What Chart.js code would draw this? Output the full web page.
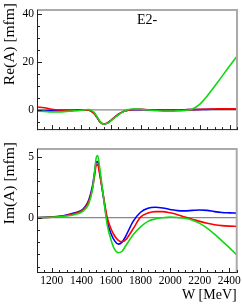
<!DOCTYPE html>
<html>
<head>
<meta charset="utf-8">
<script src="https://cdn.jsdelivr.net/npm/chart.js@4"></script>
<style>
  body { margin: 0; background: #fff; }
  .panel { position: absolute; left: 0; width: 242px; }
  #topBox { top: 0; height: 140px; }
  #botBox { top: 139px; height: 165px; }
</style>
</head>
<body>
<div class="panel" id="topBox"><canvas id="reChart"></canvas></div>
<div class="panel" id="botBox"><canvas id="imChart"></canvas></div>
<script>
// energies W [MeV]
const W = [1100, 1150, 1200, 1250, 1300, 1350, 1400, 1425, 1450, 1475, 1490, 1500, 1510, 1525, 1550, 1575, 1600, 1625, 1650, 1675, 1700, 1750, 1800, 1850, 1900, 1950, 2000, 2050, 2100, 2150, 2200, 2250, 2300, 2350, 2400, 2450];

// Re(A) [mfm]
const reRed   = [1.2, 0.9, 0.3, 0.0, -0.1, -0.15, -0.1, 0.0, -0.1, -0.9, -1.8, -2.6, -3.5, -4.9, -5.9, -5.4, -4.3, -3.0, -1.8, -0.9, -0.3, 0.2, 0.25, 0.1, 0.0, -0.05, 0.0, 0.05, 0.1, 0.15, 0.25, 0.3, 0.4, 0.45, 0.5, 0.5];
const reBlue  = [-0.2, -0.2, -0.25, -0.2, -0.15, -0.1, -0.05, 0.0, -0.1, -0.9, -1.8, -2.7, -3.6, -5.0, -5.9, -5.5, -4.3, -3.0, -1.8, -0.9, -0.3, 0.15, 0.15, 0.05, 0.0, 0.0, 0.0, 0.05, 0.1, 0.15, 0.2, 0.25, 0.3, 0.35, 0.4, 0.4];
const reGreen = [-0.5, -0.6, -0.8, -0.8, -0.6, -0.4, -0.1, 0.1, 0.2, -0.5, -1.4, -2.3, -3.3, -4.7, -5.9, -5.6, -4.5, -3.2, -2.0, -1.0, -0.2, 0.4, 0.3, 0.0, -0.3, -0.5, -0.5, -0.4, -0.2, 0.4, 2.4, 5.9, 10.0, 14.1, 18.3, 22.4];

// Im(A) [mfm]
const imRed   = [0.0, 0.02, 0.05, 0.1, 0.18, 0.32, 0.55, 0.85, 1.35, 2.4, 3.5, 4.3, 4.35, 3.5, 1.7, 0.0, -0.9, -1.5, -1.85, -1.96, -1.8, -0.9, 0.05, 0.38, 0.5, 0.5, 0.4, 0.25, 0.05, -0.12, -0.3, -0.45, -0.57, -0.65, -0.69, -0.71];
const imBlue  = [0.0, 0.03, 0.07, 0.12, 0.22, 0.38, 0.6, 0.9, 1.45, 2.6, 3.8, 4.55, 4.6, 3.6, 1.6, -0.3, -1.3, -1.9, -2.16, -2.0, -1.5, -0.3, 0.45, 0.78, 0.86, 0.8, 0.68, 0.58, 0.56, 0.6, 0.63, 0.6, 0.5, 0.43, 0.4, 0.38];
const imGreen = [0.0, 0.02, 0.04, 0.08, 0.14, 0.25, 0.45, 0.7, 1.15, 2.3, 3.8, 4.9, 5.1, 4.0, 1.6, -0.6, -1.8, -2.6, -2.87, -2.75, -2.3, -1.4, -0.75, -0.3, -0.1, 0.0, 0.05, 0.02, -0.05, -0.2, -0.46, -0.85, -1.35, -1.9, -2.45, -3.05];

// ticks
const xMajor = [1200, 1400, 1600, 1800, 2000, 2200, 2400];
const xMinor = [1100, 1150, 1250, 1300, 1350, 1450, 1500, 1550, 1650, 1700, 1750, 1850, 1900, 1950, 2050, 2100, 2150, 2250, 2300, 2350, 2450];
const reMajor = [0, 20, 40];
const reMinor = [-5, 5, 10, 15, 25, 30, 35];
const imMajor = [0, 5];
const imMinor = [-4, -3, -2, -1, 1, 2, 3, 4];

const serif = 'Liberation Serif';

function pts(ys) {
  return W.map((w, i) => ({ x: w, y: ys[i] }));
}

function series(red, blue, green) {
  // first dataset is drawn on top
  return [
    { data: pts(green), borderColor: 'rgb(20,215,20)' },
    { data: pts(red), borderColor: 'rgb(255,0,0)' },
    { data: pts(blue), borderColor: 'rgb(0,0,255)' }
  ].map(d => Object.assign(d, {
    borderWidth: 1.6, pointRadius: 0, fill: false, cubicInterpolationMode: 'monotone'
  }));
}

// axes frame, inward ticks, zero line, y title and panel label
const framePlugin = {
  id: 'frame',
  beforeDatasetsDraw(chart, args, opts) {
    const { ctx, chartArea: a, scales: { y } } = chart;
    const y0 = y.getPixelForValue(0);
    ctx.save();
    ctx.strokeStyle = '#888';
    ctx.lineWidth = 1.2;
    ctx.beginPath();
    ctx.moveTo(a.left, y0);
    ctx.lineTo(a.right, y0);
    ctx.stroke();
    ctx.restore();
  },
  afterDraw(chart, args, opts) {
    const { ctx, chartArea: a, scales: { x, y } } = chart;
    ctx.save();
    ctx.strokeStyle = '#aaa';
    ctx.lineWidth = 2;
    ctx.beginPath();
    ctx.moveTo(a.left, a.top);
    ctx.lineTo(a.right, a.top);
    ctx.lineTo(a.right, a.bottom);
    ctx.stroke();

    ctx.strokeStyle = '#222';
    ctx.lineWidth = 1;
    ctx.beginPath();
    ctx.moveTo(a.left + 0.5, a.top);
    ctx.lineTo(a.left + 0.5, a.bottom);
    ctx.moveTo(a.left, a.bottom - 0.5);
    ctx.lineTo(a.right, a.bottom - 0.5);
    xMajor.forEach(v => {
      const px = Math.round(x.getPixelForValue(v)) + 0.5;
      ctx.moveTo(px, a.bottom);
      ctx.lineTo(px, a.bottom - 5);
    });
    xMinor.forEach(v => {
      const px = Math.round(x.getPixelForValue(v)) + 0.5;
      ctx.moveTo(px, a.bottom);
      ctx.lineTo(px, a.bottom - 3);
    });
    opts.major.forEach(v => {
      const py = Math.round(y.getPixelForValue(v)) + 0.5;
      ctx.moveTo(a.left, py);
      ctx.lineTo(a.left + 5, py);
    });
    opts.minor.forEach(v => {
      const py = Math.round(y.getPixelForValue(v)) + 0.5;
      ctx.moveTo(a.left, py);
      ctx.lineTo(a.left + 3, py);
    });
    ctx.stroke();

    ctx.fillStyle = '#000';
    if (opts.label) {
      ctx.font = '14px "' + serif + '"';
      ctx.textAlign = 'center';
      ctx.textBaseline = 'middle';
      ctx.fillText(opts.label, a.left + (a.right - a.left) * 0.55, a.top + 10);
    }
    // rotated y-axis title, anchored at the panel top
    ctx.translate(10, opts.titleTop);
    ctx.rotate(-Math.PI / 2);
    ctx.font = '15.5px "' + serif + '"';
    ctx.textAlign = 'right';
    ctx.textBaseline = 'middle';
    ctx.fillText(opts.yTitle, 0, 0);
    ctx.restore();
  }
};

function makeChart(id, datasets, yMin, yMax, major, minor, yTitle, titleTop, label, showX, pad) {
  return new Chart(document.getElementById(id), {
    type: 'line',
    data: { datasets: datasets },
    plugins: [framePlugin],
    options: {
      responsive: true,
      maintainAspectRatio: false,
      animation: false,
      layout: { padding: pad },
      plugins: {
        legend: { display: false },
        tooltip: { enabled: false },
        frame: { major: major, minor: minor, label: label, yTitle: yTitle, titleTop: titleTop }
      },
      scales: {
        x: {
          type: 'linear',
          min: 1100,
          max: 2450,
          display: showX,
          afterBuildTicks: s => { s.ticks = xMajor.map(v => ({ value: v })); },
          afterFit: s => { s.height = showX ? 31 : 0; },
          grid: { display: false, drawTicks: false },
          border: { display: false },
          ticks: {
            color: '#000', padding: 1, maxRotation: 0,
            font: { family: serif, size: 11.5 },
            callback: v => String(v)
          },
          title: {
            display: true, text: 'W [MeV]', align: 'end', color: '#000',
            font: { family: serif, size: 14 }, padding: 0
          }
        },
        y: {
          min: yMin,
          max: yMax,
          afterBuildTicks: s => { s.ticks = major.map(v => ({ value: v })); },
          afterFit: s => { s.width = 37; },
          grid: { display: false, drawTicks: false },
          border: { display: false },
          ticks: {
            color: '#000', padding: 3,
            font: { family: serif, size: 11.5 },
            callback: v => String(v)
          }
        }
      }
    }
  });
}

makeChart('reChart', series(reRed, reBlue, reGreen), -8.4, 41.7, reMajor, reMinor,
  'Re(A) [mfm]', 3, 'E2-', false, { top: 5, right: 5, bottom: 1, left: 0 });
makeChart('imChart', series(imRed, imBlue, imGreen), -4.53, 5.64, imMajor, imMinor,
  'Im(A) [mfm]', 3, '', true, { top: 0, right: 5, bottom: 0, left: 0 });
</script>
</body>
</html>
